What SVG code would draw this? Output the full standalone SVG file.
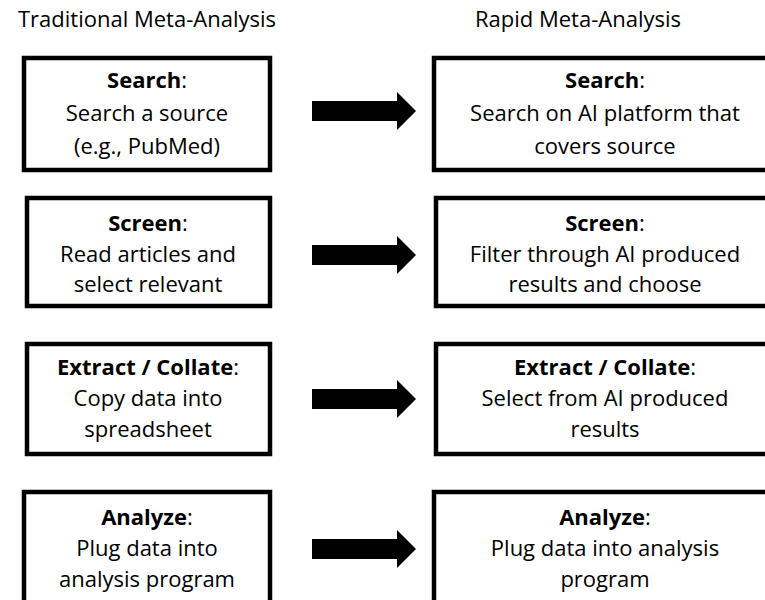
<svg xmlns="http://www.w3.org/2000/svg" width="765" height="600" viewBox="0 0 765 600">
<defs>
<style>
text{font-family:"Open Sans","Liberation Sans",sans-serif;font-size:22px;fill:#000;text-anchor:middle}
.b{font-weight:bold}
.box{fill:#fff;stroke:#000;stroke-width:4.5}
.arr{fill:#000}
</style>
</defs>
<rect width="765" height="600" fill="#fff"/>
<g id="titles">
<text x="147" y="27">Traditional Meta-Analysis</text>
<text x="578" y="27">Rapid Meta-Analysis</text>
</g>
<g id="trad-search">
<rect class="box" x="24" y="58" width="246" height="112"/>
<text x="147" y="88"><tspan class="b">Search</tspan>:</text>
<text x="147" y="121">Search a source</text>
<text x="147" y="154">(e.g., PubMed)</text>
</g>
<g id="rapid-search">
<rect class="box" x="434" y="58" width="340" height="112"/>
<text x="605" y="88"><tspan class="b">Search</tspan>:</text>
<text x="605" y="121">Search on AI platform that</text>
<text x="605" y="154">covers source</text>
</g>
<g id="trad-screen">
<rect class="box" x="27" y="198" width="243" height="108"/>
<text x="148" y="231"><tspan class="b">Screen</tspan>:</text>
<text x="148" y="262">Read articles and</text>
<text x="148" y="292">select relevant</text>
</g>
<g id="rapid-screen">
<rect class="box" x="436" y="198" width="340" height="108"/>
<text x="605" y="231"><tspan class="b">Screen</tspan>:</text>
<text x="605" y="262">Filter through AI produced</text>
<text x="605" y="292">results and choose</text>
</g>
<g id="trad-extract">
<rect class="box" x="27" y="344" width="243" height="110"/>
<text x="148" y="375"><tspan class="b">Extract / Collate</tspan>:</text>
<text x="148" y="406">Copy data into</text>
<text x="148" y="437">spreadsheet</text>
</g>
<g id="rapid-extract">
<rect class="box" x="436" y="344" width="340" height="110"/>
<text x="605" y="375"><tspan class="b">Extract / Collate</tspan>:</text>
<text x="605" y="406">Select from AI produced</text>
<text x="605" y="437">results</text>
</g>
<g id="trad-analyze">
<rect class="box" x="24" y="492" width="246" height="115"/>
<text x="147" y="525"><tspan class="b">Analyze</tspan>:</text>
<text x="147" y="556">Plug data into</text>
<text x="147" y="587">analysis program</text>
</g>
<g id="rapid-analyze">
<rect class="box" x="434" y="492" width="340" height="115"/>
<text x="605" y="525"><tspan class="b">Analyze</tspan>:</text>
<text x="605" y="556">Plug data into analysis</text>
<text x="605" y="587">program</text>
</g>
<g id="connectors">
<polygon class="arr" points="312,101 397,101 397,92 416,111 397,130 397,121 312,121"/>
<polygon class="arr" points="312,245 397,245 397,236 416,255 397,274 397,265 312,265"/>
<polygon class="arr" points="312,389 397,389 397,380 416,399 397,418 397,409 312,409"/>
<polygon class="arr" points="312,539 397,539 397,530 416,549 397,568 397,559 312,559"/>
</g>
</svg>
